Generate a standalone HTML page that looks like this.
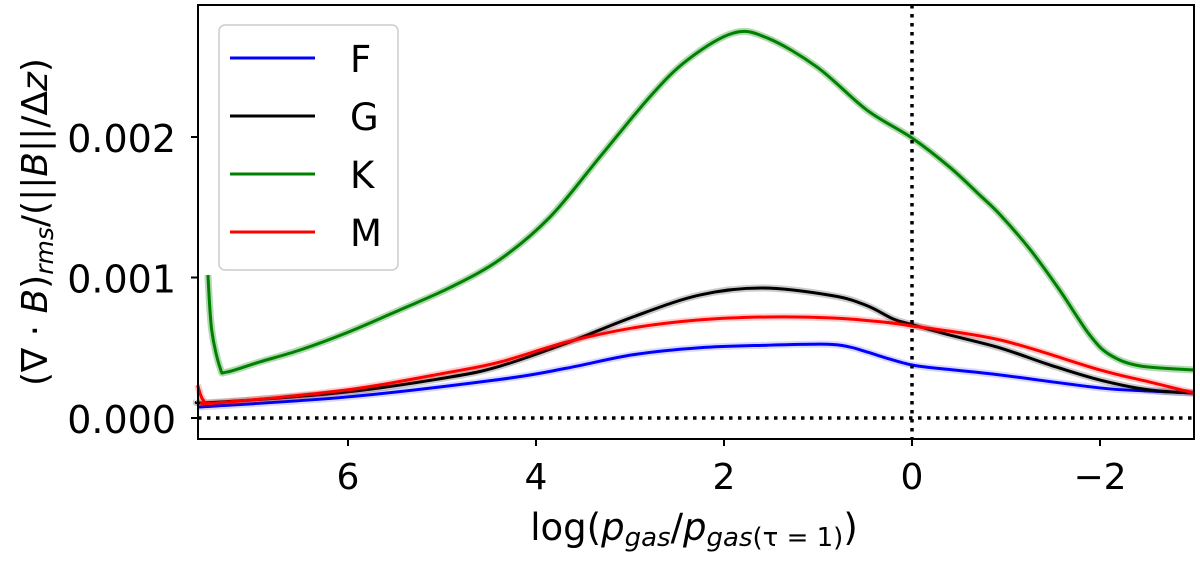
<!DOCTYPE html>
<html><head><meta charset="utf-8"><style>
body{margin:0;background:#fff;}
svg{font-family:"DejaVu Sans","Liberation Sans",sans-serif;}
</style></head><body>
<svg id="chart" width="1200" height="557" viewBox="0 0 1200 557" xmlns="http://www.w3.org/2000/svg">
<g id="marks"></g>
<rect x="198" y="5" width="996" height="434" fill="none" stroke="#000" stroke-width="2"/>
<g id="axes"></g>
<g>
<rect x="219" y="25" width="179" height="245" rx="6" fill="#fff" fill-opacity="0.8" stroke="#ccc" stroke-width="1.5"/>
<line x1="230" y1="58" x2="315" y2="58" stroke="#0000ff" stroke-width="3"/>
<text x="350" y="72" font-size="37">F</text>
<line x1="230" y1="116" x2="315" y2="116" stroke="#000" stroke-width="3"/>
<text x="350" y="130" font-size="37">G</text>
<line x1="230" y1="174" x2="315" y2="174" stroke="#008000" stroke-width="3"/>
<text x="350" y="188" font-size="37">K</text>
<line x1="230" y1="232" x2="315" y2="232" stroke="#ff0000" stroke-width="3"/>
<text x="350" y="246" font-size="37">M</text>
</g>
<text x="694" y="540" font-size="37" text-anchor="middle">log(<tspan font-style="italic">p</tspan><tspan font-size="26" font-style="italic" dy="6">gas</tspan><tspan dy="-6">/</tspan><tspan font-style="italic">p</tspan><tspan font-size="26" dy="6"><tspan font-style="italic">gas</tspan>(τ = 1)</tspan><tspan dy="-6">)</tspan></text>
<text transform="translate(47,222) rotate(-90)" font-size="36" text-anchor="middle">(∇ · <tspan font-style="italic">B</tspan>)<tspan font-size="25" font-style="italic" dy="6">rms</tspan><tspan dy="-6">/(||</tspan><tspan font-style="italic">B</tspan>||/Δ<tspan font-style="italic">z</tspan>)</text>
</svg>
<script>
const xTicks=[6,4,2,0,-2];
const xTickLabels=["6","4","2","0","\u22122"];
const yTicks=[0,0.001,0.002];
const yTickLabels=["0.000","0.001","0.002"];
const seriesNames=["F","G","K","M"];
const fX=[7.6,6.02,4.38,3.67,2.97,2.26,1.54,0.9,0.66,0.48,0.02,-0.40,-0.94,-2.0,-2.53,-3.0];
const fY=[0.078,0.149,0.275,0.355,0.450,0.500,0.518,0.525,0.505,0.470,0.380,0.345,0.306,0.214,0.192,0.178];
const gX=[7.6,7.45,6.02,4.91,4.38,3.67,2.97,2.26,1.59,0.84,0.48,0.2,0.02,-0.40,-0.94,-1.47,-2.0,-2.53,-3.0];
const gY=[0.12,0.11,0.185,0.292,0.370,0.534,0.719,0.875,0.925,0.870,0.800,0.705,0.669,0.591,0.498,0.377,0.270,0.199,0.178];
const kX=[7.49,7.45,7.36,7.29,6.94,6.51,6.02,5.45,4.91,4.38,3.85,3.32,2.79,2.39,1.90,1.54,1.01,0.48,0,-0.40,-0.72,-0.94,-1.26,-1.57,-1.89,-2.11,-2.43,-3.0];
const kY=[1.018,0.626,0.356,0.327,0.399,0.484,0.605,0.769,0.93,1.13,1.431,1.858,2.285,2.548,2.740,2.705,2.498,2.192,1.993,1.786,1.587,1.445,1.196,0.911,0.591,0.448,0.370,0.342];
const mX=[7.6,7.54,7.41,6.02,4.91,4.38,3.67,2.97,2.26,1.54,0.84,0.31,0,-0.94,-2.0,-2.53,-3.0];
const mY=[0.235,0.128,0.107,0.199,0.327,0.399,0.541,0.641,0.698,0.719,0.712,0.683,0.655,0.555,0.342,0.256,0.178];

const NS="http://www.w3.org/2000/svg";
function sx(v){return 912-94*v;}
function sy(v){return 418-140500*v;}
function mk(t,a,p){const e=document.createElementNS(NS,t);for(const k in a)e.setAttribute(k,a[k]);p.appendChild(e);return e;}
const axes=document.getElementById('axes'),marks=document.getElementById('marks');
xTicks.forEach((v,i)=>{
 const l=mk('line',{x1:sx(v),x2:sx(v),y1:439,y2:446,stroke:'#000','stroke-width':2},axes);
 
 
 const t=mk('text',{x:sx(v),y:489,'font-size':36,'text-anchor':'middle'},axes);t.textContent=xTickLabels[i];
 
 
});
yTicks.forEach((v,i)=>{
 const l=mk('line',{x1:191,x2:198,y1:sy(v),y2:sy(v),stroke:'#000','stroke-width':2},axes);
 
 
 const t=mk('text',{x:176,y:sy(v)+15,'font-size':38,'text-anchor':'end'},axes);t.textContent=yTickLabels[i];
 
 
});
function path(xs,ys){
 const p=xs.map((x,i)=>[sx(x),sy(ys[i]*0.001)]);
 let d='M'+p[0][0]+','+p[0][1];
 for(let i=0;i<p.length-1;i++){
  const p0=p[i-1]||p[i],p1=p[i],p2=p[i+1],p3=p[i+2]||p2;
  d+=' C'+(p1[0]+(p2[0]-p0[0])/6)+','+(p1[1]+(p2[1]-p0[1])/6)+' '+(p2[0]-(p3[0]-p1[0])/6)+','+(p2[1]-(p3[1]-p1[1])/6)+' '+p2[0]+','+p2[1];
 }
 return d;
}
const series=[[fX,fY,'#0000ff',0.15],[gX,gY,'#000000',0.2],[kX,kY,'#008000',0.3],[mX,mY,'#ff0000',0.2]];
series.forEach((s,i)=>{
 const band=mk('path',{d:path(s[0],s[1]),fill:'none',stroke:s[2],'stroke-opacity':s[3],'stroke-width':7},marks);
 
 
 const e=mk('path',{d:path(s[0],s[1]),fill:'none',stroke:s[2],'stroke-width':3},marks);
 
 
});
const h=mk('line',{x1:198,x2:1194,y1:sy(0),y2:sy(0),stroke:'#000','stroke-width':3.5,'stroke-dasharray':'3.5,5.5'},marks);


const vl=mk('line',{x1:sx(0),x2:sx(0),y1:5,y2:439,stroke:'#000','stroke-width':3.5,'stroke-dasharray':'3.5,5.5'},marks);


</script>
</body></html>
